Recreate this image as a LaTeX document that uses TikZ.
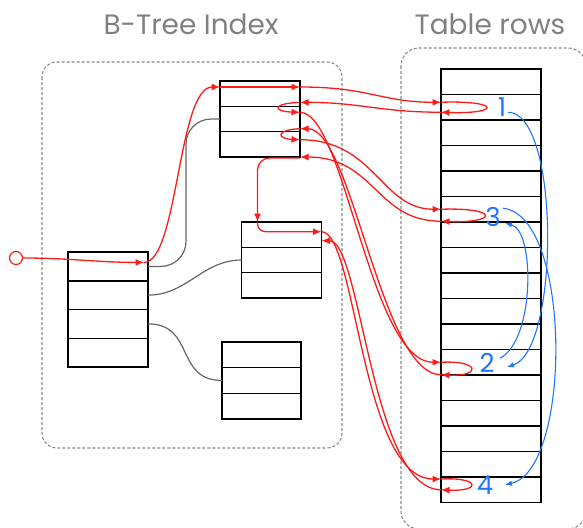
\documentclass[tikz,border=0pt]{standalone}
\usepackage{fontspec}
\setmainfont{Poppins}
\usetikzlibrary{arrows.meta, calc, positioning}
\definecolor{walkred}{HTML}{FF1A1A}
\definecolor{seqblue}{HTML}{1F75FE}
\definecolor{framegray}{HTML}{8A8A8A}

\begin{document}
\begin{tikzpicture}[
    x=1pt,
    y=-1pt,
    cell/.style={
        draw=black,
        line width=1.5pt,
        minimum width=80pt,
        minimum height=25.33pt,
        inner sep=0pt,
        outer sep=0pt
    },
    rootcell/.style={
        cell,
        minimum height=28.75pt
    },
    tablecell/.style={
        draw=black,
        line width=1.5pt,
        minimum width=100pt,
        minimum height=25.5pt,
        inner sep=0pt,
        outer sep=0pt
    },
    frame/.style={
        draw=framegray,
        line width=1.1pt,
        dash pattern=on 3pt off 2pt
    },
    title/.style={
        anchor=base,
        text=black!50,
        font=\fontsize{28}{32}\selectfont
    },
    rowno/.style={
        text=seqblue,
        font=\fontsize{26}{28}\selectfont,
        inner sep=0pt
    },
    ptr/.style={
        draw=black!60,
        line width=1.2pt
    },
    walk/.style={
        -{Latex[length=8.5pt,width=7pt]},
        draw=walkred,
        line width=1.3pt
    },
    order/.style={
        -{Latex[length=7pt,width=5.5pt]},
        draw=seqblue,
        line width=1.1pt
    }
]

\useasboundingbox (0,0) rectangle (583,527);

% -----------------------------------------------------
% Frames and titles
% -----------------------------------------------------

\draw[frame, rounded corners=15pt] (42,62) rectangle (342,448);
\draw[frame, rounded corners=18pt] (401,48) rectangle (586,529);

\node[title] (idxtitle) at (191,35) {B-Tree Index};
\node[title] (rowtitle) at (490,35) {Table rows};

% -----------------------------------------------------
% Index pages
% -----------------------------------------------------

\node[rootcell] (r1) at (108,266.4) {};
\node[rootcell] (r2) [below=0pt of r1] {};
\node[rootcell] (r3) [below=0pt of r2] {};
\node[rootcell] (r4) [below=0pt of r3] {};

\node[cell] (t1) at (260,93.7) {};
\node[cell] (t2) [below=0pt of t1] {};
\node[cell] (t3) [below=0pt of t2] {};

\node[cell] (m1) at (281.5,234.7) {};
\node[cell] (m2) [below=0pt of m1] {};
\node[cell] (m3) [below=0pt of m2] {};

\node[cell, minimum width=79pt, minimum height=25.67pt] (b1) at (261.5,354.8) {};
\node[cell, minimum width=79pt, minimum height=25.67pt] (b2) [below=0pt of b1] {};
\node[cell, minimum width=79pt, minimum height=25.67pt] (b3) [below=0pt of b2] {};

% child pointers
\draw[ptr, rounded corners=25pt] (r1.east) -| ([xshift=-34pt]t2.west) -- (t2.west);
\draw[ptr] (r2.east) to[out=0, in=180] (m2.west);
\draw[ptr] (r3.east) to[out=0, in=180, looseness=1.3] (b2.west);

% -----------------------------------------------------
% Table rows
% -----------------------------------------------------

\foreach \k in {1,...,17}
    \node[tablecell] (row\k) at (491,{69+25.5*(\k-0.5)}) {};

\node[rowno] (n1) at ([xshift=11pt]row2.center) {1};
\node[rowno] (n3) at ([xshift=2pt,yshift=-8pt]row6.center) {3};
\node[rowno] (n2) at ([xshift=-4pt,yshift=-1pt]row12.center) {2};
\node[rowno] (n4) at ([xshift=-6pt,yshift=5pt]row17.center) {4};

% -----------------------------------------------------
% Index scan
% -----------------------------------------------------

\node[draw=walkred, circle, line width=1.2pt, minimum size=13pt, inner sep=0pt] (entry) at (16,258) {};

\draw[walk] (entry.east) to[out=0, in=180]
    ([xshift=-4pt,yshift=4pt]r1.east);
\draw[walk] ([xshift=-4pt,yshift=4pt]r1.east)
    .. controls +(34,0) and +(-42,0) .. ([yshift=6.7pt]t1.west);
\draw[walk] ([yshift=6.7pt]t1.west) -- ([yshift=6.7pt]t1.east);

% entry 1
\draw[walk] ([yshift=6.7pt]t1.east)
    .. controls +(70,0) and +(-60,0) .. ([yshift=5pt]row2.west);
\draw[walk] ([yshift=5pt]row2.west)
    .. controls +(60,-2) and +(60,2) .. ([yshift=-5pt]row2.west);
\draw[walk] ([yshift=-5pt]row2.west)
    .. controls +(-60,0) and +(60,0) .. ([yshift=4pt]t2.north east);
\draw[walk] ([yshift=4pt]t2.north east)
    .. controls +(-28,1) and +(-28,-1) .. ([yshift=-6pt]t2.north east);

% entry 2
\draw[walk] ([yshift=-6pt]t2.north east)
    .. controls +(45,0) and +(-71,0) .. (row12.west);
\draw[walk] (row12.west)
    .. controls +(40,-2) and +(40,2) .. ([yshift=-12.5pt]row12.west);
\draw[walk] ([yshift=-12.5pt]row12.west)
    .. controls +(-60,0) and +(52,0) .. ([yshift=3pt]t3.north east);
\draw[walk] ([yshift=3pt]t3.north east)
    .. controls +(-24,1) and +(-24,-1) .. ([yshift=-8pt]t3.north east);

% entry 3
\draw[walk] ([yshift=-8pt]t3.north east)
    .. controls +(75,0) and +(-60,0) .. (row6.west);
\draw[walk] (row6.west)
    .. controls +(58,-2) and +(58,2) .. ([yshift=-12pt]row6.west);
\draw[walk] ([yshift=-12pt]row6.west)
    .. controls +(-65,0) and +(75,0) .. (t3.south east);

% down to the next leaf
\draw[walk, rounded corners=12pt] ([yshift=-1pt]t3.south east)
    -| ([xshift=-24pt]m1.north);
\draw[walk, rounded corners=8pt] ([xshift=-24pt]m1.north)
    |- ([yshift=3pt]m1.east);

% entry 4
\draw[walk] ([yshift=3pt]m1.east)
    .. controls +(35,0) and +(-80,0) .. ([yshift=10.75pt]row17.west);
\draw[walk] ([yshift=10.75pt]row17.west)
    .. controls +(40,-2) and +(40,2) .. (row17.west);
\draw[walk] (row17.west)
    .. controls +(-70,0) and +(40,0) .. ([yshift=-6pt]m1.east);

% -----------------------------------------------------
% Row order
% -----------------------------------------------------

\draw[order] ([xshift=17pt,yshift=-5pt]row2.center)
    .. controls +(52,0) and +(53,-17) .. ([xshift=16pt,yshift=-4.75pt]row12.center);
\draw[order] ([xshift=9pt,yshift=4pt]row12.center)
    .. controls +(35,-18) and +(30,7) .. ([xshift=14pt,yshift=-14pt]row6.center);
\draw[order] ([xshift=12pt,yshift=1pt]row6.center)
    .. controls +(69,7) and +(67,-15) .. ([xshift=14pt,yshift=5pt]row17.center);

\end{tikzpicture}
\end{document}
